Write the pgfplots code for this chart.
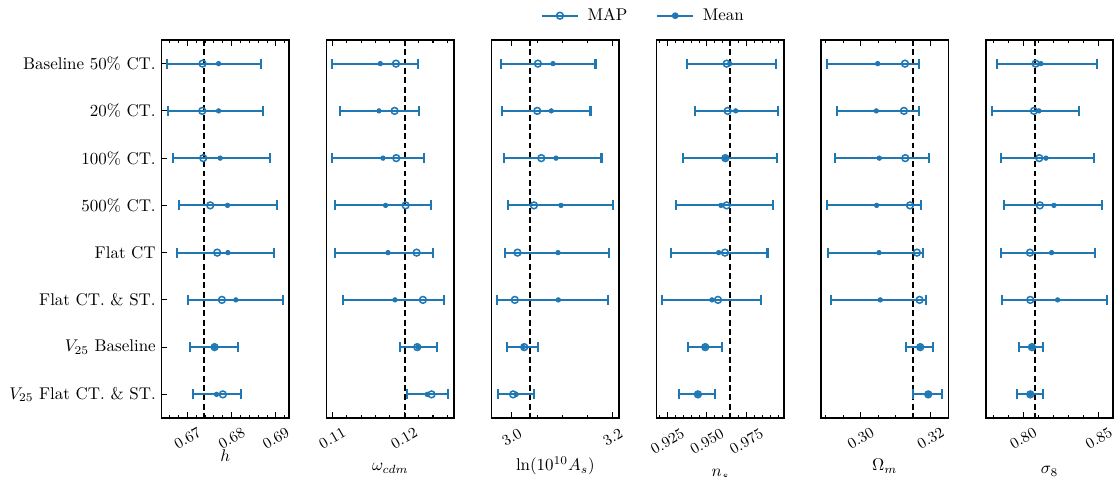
\documentclass[border=0pt]{standalone}
\usepackage{pgfplots}
\pgfplotsset{compat=1.18}
\usepackage{pgfplotstable}
\definecolor{tabblue}{HTML}{1F77B4}

\pgfplotstableread{
row map mean lo hi
0 0.67342 0.67704 0.66530 0.68674
1 0.67335 0.67704 0.66552 0.68719
2 0.67357 0.67741 0.66665 0.68862
3 0.67515 0.67907 0.66808 0.69035
4 0.67673 0.67914 0.66763 0.68953
5 0.67779 0.68095 0.67019 0.69156
6 0.67613 0.67613 0.67056 0.68147
7 0.67801 0.67658 0.67117 0.68208
}\tabh
\pgfplotstableread{
row map mean lo hi
0 0.11885 0.11667 0.11000 0.12186
1 0.11866 0.11649 0.11107 0.12199
2 0.11889 0.11704 0.11000 0.12274
3 0.12019 0.11741 0.11033 0.12371
4 0.12172 0.11774 0.11042 0.12394
5 0.12260 0.11871 0.11144 0.12547
6 0.12181 0.12190 0.11940 0.12458
7 0.12380 0.12320 0.12042 0.12607
}\tabw
\pgfplotstableread{
row map mean lo hi
0 3.0516 3.0815 2.9787 3.1656
1 3.0503 3.0781 2.9814 3.1557
2 3.0583 3.0874 2.9847 3.1775
3 3.0437 3.0973 2.9920 3.2001
4 3.0112 3.0914 2.9867 3.1921
5 3.0059 3.0920 2.9714 3.1901
6 3.0245 3.0225 2.9907 3.0516
7 3.0026 3.0085 2.9734 3.0430
}\tabA
\pgfplotstableread{
row map mean lo hi
0 0.96248 0.96439 0.93727 0.99385
1 0.96312 0.96820 0.94214 0.99490
2 0.96163 0.96163 0.93493 0.99406
3 0.96248 0.95888 0.93027 0.99172
4 0.96142 0.95740 0.92730 0.98833
5 0.95697 0.95316 0.92158 0.98409
6 0.94892 0.94892 0.93769 0.95973
7 0.94426 0.94426 0.93218 0.95485
}\tabn
\pgfplotstableread{
row map mean lo hi
0 0.31267 0.30486 0.29029 0.31657
1 0.31238 0.30448 0.29314 0.31676
2 0.31276 0.30533 0.29276 0.31962
3 0.31410 0.30457 0.29029 0.31724
4 0.31610 0.30524 0.29057 0.31781
5 0.31686 0.30562 0.29152 0.31867
6 0.31705 0.31705 0.31286 0.32076
7 0.31933 0.31933 0.31505 0.32333
}\tabO
\pgfplotstableread{
row map mean lo hi
0 0.80815 0.81168 0.78238 0.84847
1 0.80705 0.81035 0.77907 0.83679
2 0.81057 0.81498 0.78524 0.84693
3 0.81101 0.82027 0.78744 0.85178
4 0.80441 0.81873 0.78502 0.84759
5 0.80463 0.82270 0.78590 0.85530
6 0.80573 0.80573 0.79692 0.81300
7 0.80463 0.80463 0.79559 0.81278
}\tabs

\pgfplotsset{
  panel/.style={
    scale only axis, width=75pt, height=223pt,
    y dir=reverse, ymin=-0.5, ymax=7.5,
    ytick=\empty,
    axis line style={line width=0.8pt, black},
    tick align=inside, xtick pos=both, xticklabel pos=lower,
    major tick length=3.3pt, minor tick length=1.7pt,
    tick style={line width=0.6pt, black},
  },
  tlabel/.style={xticklabel style={font=\small, inner sep=0pt, anchor=center, yshift=-#1, rotate=30}},
}

\newcommand{\panelplots}[2]{%
  \addplot[black, line width=1.15pt, dash pattern=on 3.5pt off 2pt, forget plot] coordinates {(#2,-0.5) (#2,7.5)};
  \addplot[draw=none, mark=none, forget plot,
    error bars/.cd, x dir=both, x explicit,
    error bar style={tabblue, line width=1.2pt},
    error mark options={tabblue, line width=1.2pt, mark size=2.95pt, rotate=90}]
    table[x=mean, y=row, x error plus expr=\thisrow{hi}-\thisrow{mean}, x error minus expr=\thisrow{mean}-\thisrow{lo}] {#1};
  \addplot[only marks, mark=o, mark size=2.0pt, mark options={draw=tabblue, fill=white, line width=0.9pt}, forget plot] table[x=map, y=row] {#1};
  \addplot[only marks, mark=*, mark size=1.35pt, mark options={draw=tabblue, fill=tabblue}, forget plot] table[x=mean, y=row] {#1};
}

\begin{document}
\begin{tikzpicture}
% panel 1: h
\begin{axis}[panel, at={(0pt,0pt)}, xmin=0.66418, xmax=0.69293,
  xtick={0.67,0.68,0.69}, xticklabels={$0.67$,$0.68$,$0.69$},
  minor xtick={0.666,0.668,0.672,0.674,0.676,0.678,0.682,0.684,0.686,0.688,0.692},
  tlabel=11.8pt,
  ytick={0,1,2,3,4,5,6,7}, ytick pos=left,
  yticklabels={Baseline 50\% CT., 20\% CT., 100\% CT., 500\% CT., Flat CT, Flat CT.\ \& ST., $V_{25}$ Baseline, $V_{25}$ Flat CT.\ \& ST.}]
\panelplots{\tabh}{0.6737}
\end{axis}
% panel 2: omega_cdm
\begin{axis}[panel, at={(97.35pt,0pt)}, xmin=0.10922, xmax=0.12690,
  xtick={0.11,0.12}, xticklabels={$0.11$,$0.12$},
  minor xtick={0.112,0.114,0.116,0.118,0.122,0.124,0.126},
  tlabel=11.8pt]
\panelplots{\tabw}{0.1201}
\end{axis}
% panel 3: ln(10^10 A_s)
\begin{axis}[panel, at={(194.7pt,0pt)}, xmin=2.9602, xmax=3.2119,
  xtick={3.0,3.2}, xticklabels={$3.0$,$3.2$},
  minor xtick={3.05,3.10,3.15},
  tlabel=11.5pt]
\panelplots{\tabA}{3.0364}
\end{axis}
% panel 4: n_s
\begin{axis}[panel, at={(292.05pt,0pt)}, xmin=0.91821, xmax=0.99870,
  xtick={0.925,0.950,0.975}, xticklabels={$0.925$,$0.950$,$0.975$},
  minor xtick={0.920,0.930,0.935,0.940,0.945,0.955,0.960,0.965,0.970,0.980,0.985,0.990,0.995},
  tlabel=14pt,
  legend style={at={(axis description cs:-0.1003,1.0643)}, anchor=center, draw=none, fill=none,
    legend columns=2, /tikz/every odd column/.append style={column sep=3pt},
    /tikz/every even column/.append style={column sep=15pt},
    font=\normalsize, nodes={font=\normalsize}},
  legend image code/.code={\draw[mark repeat=2,mark phase=2,#1] plot coordinates {(0cm,0cm) (0.375cm,0cm) (0.75cm,0cm)};}]
\panelplots{\tabn}{0.9644}
\addlegendimage{tabblue, line width=1.2pt, mark=o, mark size=2.0pt, mark options={fill=white, line width=0.9pt}}
\addlegendentry{MAP}
\addlegendimage{tabblue, line width=1.2pt, mark=*, mark size=1.35pt}
\addlegendentry{Mean}
\end{axis}
% panel 5: Omega_m
\begin{axis}[panel, at={(389.0pt,0pt)}, xmin=0.28867, xmax=0.32505,
  xtick={0.30,0.32}, xticklabels={$0.30$,$0.32$},
  minor xtick={0.290,0.295,0.305,0.310,0.315},
  tlabel=11.8pt]
\panelplots{\tabO}{0.3151}
\end{axis}
% panel 6: sigma_8
\begin{axis}[panel, at={(486.3pt,0pt)}, xmin=0.77533, xmax=0.85948,
  xtick={0.80,0.85}, xticklabels={$0.80$,$0.85$},
  minor xtick={0.78,0.79,0.81,0.82,0.83,0.84},
  tlabel=11.8pt]
\panelplots{\tabs}{0.8077}
\end{axis}
% axis labels
\node[anchor=north, inner sep=0pt] at (37.5pt,-18.6pt) {$h$};
\node[anchor=base, inner sep=0pt] at (134.85pt,-31.1pt) {$\omega_{cdm}$};
\node[anchor=base, inner sep=0pt] at (232.2pt,-31.1pt) {$\ln(10^{10}A_s)$};
\node[anchor=base, inner sep=0pt] at (329.55pt,-34.6pt) {$n_s$};
\node[anchor=base, inner sep=0pt] at (426.5pt,-31.1pt) {$\Omega_m$};
\node[anchor=base, inner sep=0pt] at (523.8pt,-33pt) {$\sigma_8$};
\pgfresetboundingbox
\path (-95.4pt,-34.8pt) rectangle (562.4pt,246.6pt);
\end{tikzpicture}
\end{document}
